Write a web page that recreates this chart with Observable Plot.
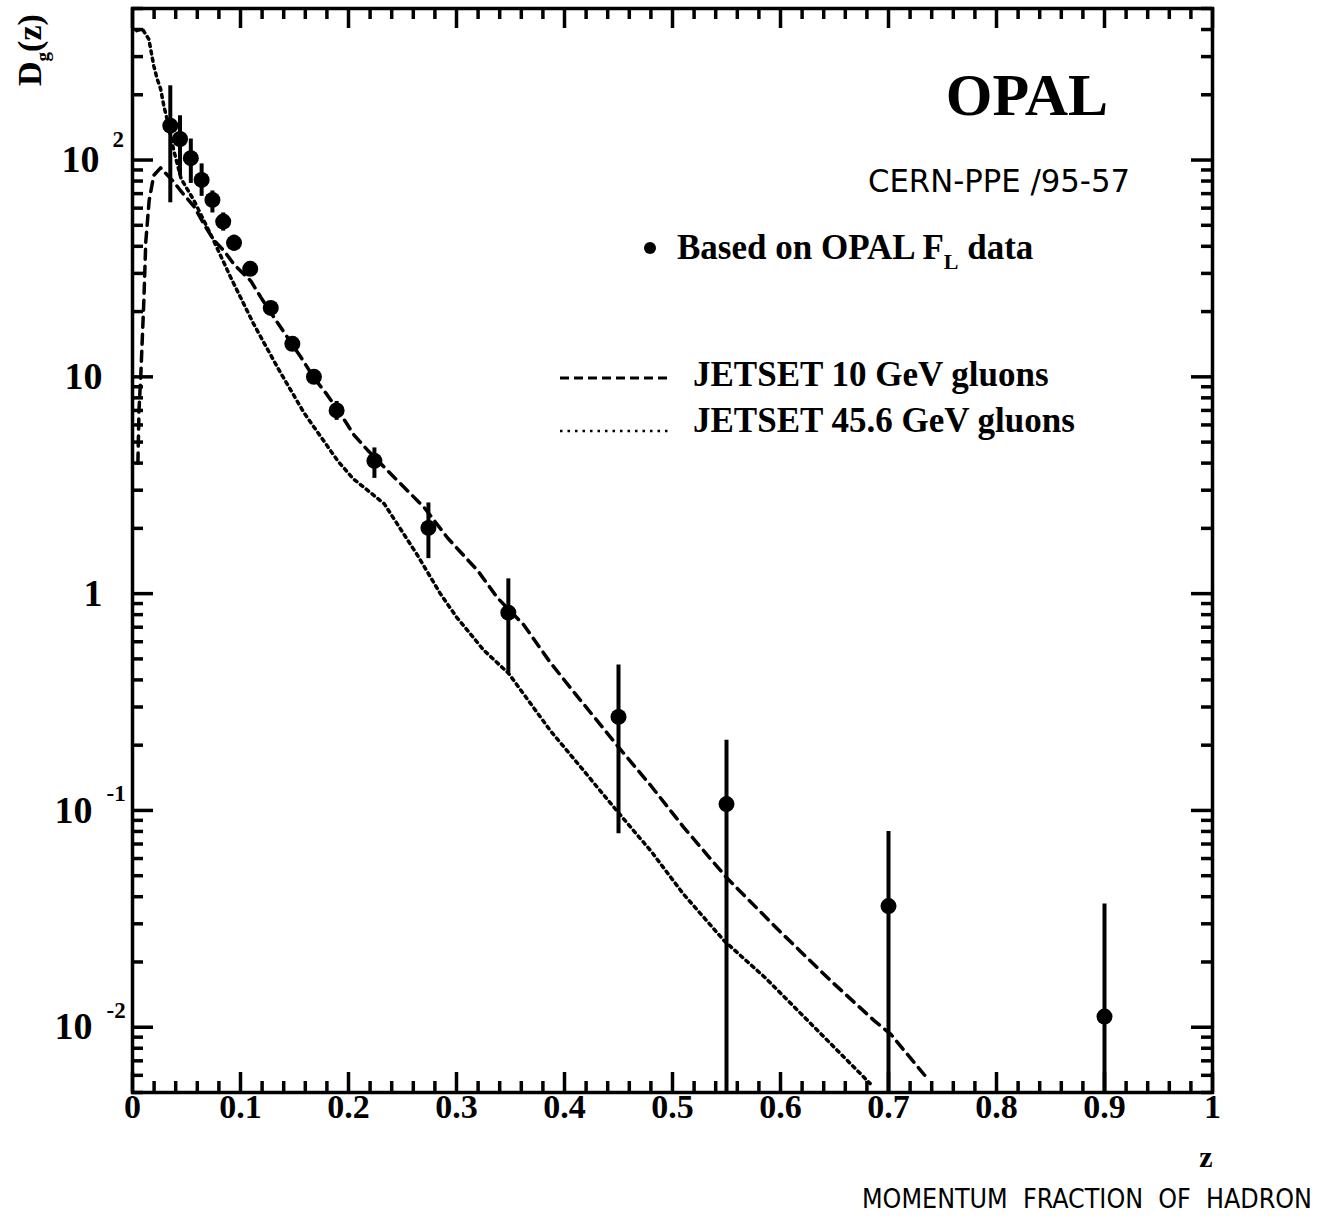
<!DOCTYPE html>
<html><head><meta charset="utf-8">
<script src="https://cdn.jsdelivr.net/npm/d3@7"></script>
<script src="https://cdn.jsdelivr.net/npm/@observablehq/plot@0.6"></script>
<style>
html,body{margin:0;padding:0;background:#fff;}
#chart{position:relative;width:1338px;height:1224px;overflow:hidden;}
</style></head><body><div id="chart"></div>
<script>
// ---- data ----
const pointZ  = [0.035, 0.044, 0.054, 0.064, 0.074, 0.084, 0.094, 0.109, 0.128, 0.148, 0.168, 0.189, 0.224, 0.274, 0.348, 0.45, 0.55, 0.70, 0.90];
const pointD  = [144, 125, 102, 81, 65.5, 52, 41.5, 31.5, 20.8, 14.2, 10, 7.0, 4.1, 2.01, 0.817, 0.27, 0.107, 0.0362, 0.0112];
const pointLo = [63.5, 85, 78, 68, 57, 47, 38, 29.5, 20, 13.6, 9.6, 6.3, 3.4, 1.45, 0.43, 0.078, 0.005, 0.005, 0.005];
const pointHi = [220, 160, 125, 96, 72, 57, 45, 33.5, 21.6, 14.8, 10.4, 7.7, 4.7, 2.62, 1.17, 0.469, 0.211, 0.080, 0.037];

const jet10Z = [0.005, 0.006, 0.0077, 0.0105, 0.0123, 0.0154, 0.0197, 0.026, 0.0385, 0.0447, 0.057, 0.068, 0.0756, 0.085, 0.094, 0.1095, 0.119, 0.131, 0.1435, 0.156, 0.168, 0.18, 0.193, 0.205, 0.2175, 0.242, 0.27, 0.292, 0.32, 0.338, 0.362, 0.387, 0.41, 0.43, 0.45, 0.48, 0.51, 0.55, 0.6, 0.647, 0.687, 0.702, 0.736];
const jet10D = [4, 7, 10.2, 22.4, 42, 65, 85, 92, 79, 72, 61, 48.8, 42.5, 38, 33, 27.7, 23.2, 18.8, 15.2, 12.3, 9.9, 8.3, 6.7, 5.4, 4.6, 3.45, 2.5, 1.8, 1.27, 0.955, 0.72, 0.48, 0.345, 0.26, 0.196, 0.13, 0.084, 0.049, 0.0275, 0.0163, 0.0107, 0.0093, 0.0058];

const jet45Z = [0.004, 0.009, 0.0151, 0.0197, 0.0228, 0.026, 0.029, 0.032, 0.038, 0.045, 0.057, 0.0743, 0.091, 0.112, 0.1345, 0.159, 0.19, 0.204, 0.233, 0.264, 0.285, 0.3, 0.325, 0.348, 0.387, 0.418, 0.45, 0.48, 0.51, 0.548, 0.586, 0.683];
const jet45D = [395, 403, 361, 272, 237, 213, 178, 154, 112, 82, 65, 43.4, 28.7, 17.6, 11.0, 6.8, 4.1, 3.4, 2.6, 1.5, 1.0, 0.78, 0.55, 0.43, 0.233, 0.152, 0.0975, 0.065, 0.0412, 0.025, 0.0169, 0.0055];

const xLabelValues = [0, 0.1, 0.2, 0.3, 0.4, 0.5, 0.6, 0.7, 0.8, 0.9, 1];
const xLabelTexts  = ["0", "0.1", "0.2", "0.3", "0.4", "0.5", "0.6", "0.7", "0.8", "0.9", "1"];
const yLabelValues = [100, 10, 1, 0.1, 0.01];
const yLabelBase   = ["10", "10", "1", "10", "10"];
const yLabelExp    = ["2", "", "", "-1", "-2"];

const xMajorTicks = [0, 0.1, 0.2, 0.3, 0.4, 0.5, 0.6, 0.7, 0.8, 0.9, 1];
const xMinorTicks = d3.range(1, 50).map(i => i / 50).filter(v => Math.abs(v * 10 - Math.round(v * 10)) > 1e-9);
const yMajorTicks = [0.01, 0.1, 1, 10, 100];
const yMinorTicks = [5,6,7,8,9].map(m => m * 0.001)
  .concat(...[0.01, 0.1, 1, 10].map(p => [2,3,4,5,6,7,8,9].map(m => +(m * p).toPrecision(3))))
  .concat([200, 300, 400, 500]);

// ---- layout ----
const W = 1338, H = 1224;
const mL = 132, mR = 126, mT = 8, mB = 132;
const iW = W - mL - mR, iH = H - mT - mB;
const serif = "'Liberation Serif', 'Times New Roman', 'DejaVu Serif', serif";
const hand = "'DejaVu Sans Condensed', 'Liberation Sans Narrow', 'DejaVu Sans', sans-serif";

const points = pointZ.map((z, i) => ({z, d: pointD[i], lo: pointLo[i], hi: pointHi[i]}));
const jet10 = jet10Z.map((z, i) => ({z, d: jet10D[i]}));
const jet45 = jet45Z.map((z, i) => ({z, d: jet45D[i]}));
const yLabels = yLabelValues.map((v, i) => ({v, base: yLabelBase[i], exp: yLabelExp[i]}));

const txt = {fill: "black", fontFamily: serif, fontWeight: "bold"};
const TW = 3.5;

const chart = Plot.plot({
  width: W, height: H,
  marginLeft: mL, marginRight: mR, marginTop: mT, marginBottom: mB,
  x: {domain: [0, 1], axis: null},
  y: {type: "log", domain: [0.005, 500], axis: null},
  style: {background: "white", fontFamily: serif, overflow: "visible"},
  marks: [
    Plot.line(jet10, {x: "z", y: "d", stroke: "black", strokeWidth: 3.5, strokeDasharray: "10,7"}),
    Plot.line(jet45, {x: "z", y: "d", stroke: "black", strokeWidth: 3.5, strokeDasharray: "3,4.5"}),
    Plot.ruleX(points, {x: "z", y1: "lo", y2: "hi", stroke: "black", strokeWidth: 4}),
    Plot.dot(points, {x: "z", y: "d", r: 8, fill: "black", stroke: null}),
    // ticks, all pointing inward
    Plot.tickX(xMajorTicks, {x: d => d, insetTop: iH - 20, strokeWidth: TW}),
    Plot.tickX(xMinorTicks, {x: d => d, insetTop: iH - 11, strokeWidth: TW}),
    Plot.tickX(xMajorTicks, {x: d => d, insetBottom: iH - 20, strokeWidth: TW}),
    Plot.tickX(xMinorTicks, {x: d => d, insetBottom: iH - 11, strokeWidth: TW}),
    Plot.tickY(yMajorTicks, {y: d => d, insetRight: iW - 21, strokeWidth: TW}),
    Plot.tickY(yMinorTicks, {y: d => d, insetRight: iW - 11, strokeWidth: TW}),
    Plot.tickY(yMajorTicks, {y: d => d, insetLeft: iW - 21, strokeWidth: TW}),
    Plot.tickY(yMinorTicks, {y: d => d, insetLeft: iW - 11, strokeWidth: TW}),
    Plot.frame({stroke: "black", strokeWidth: 3.5}),
    // x tick labels
    Plot.text(xLabelValues, {x: d => d, text: (d, i) => xLabelTexts[i], frameAnchor: "bottom", dy: 25, fontSize: 34, ...txt}),
    // y tick labels
    Plot.text(yLabels.filter(d => d.exp === ""), {y: "v", text: "base", frameAnchor: "left", textAnchor: "end", dx: -30, fontSize: 38, ...txt}),
    Plot.text(yLabels.filter(d => d.exp !== "" && !d.exp.startsWith("-")), {y: "v", text: "base", frameAnchor: "left", textAnchor: "end", dx: -33, fontSize: 38, ...txt}),
    Plot.text(yLabels.filter(d => d.exp.startsWith("-")), {y: "v", text: "base", frameAnchor: "left", textAnchor: "end", dx: -40, fontSize: 38, ...txt}),
    Plot.text(yLabels.filter(d => d.exp !== "" && !d.exp.startsWith("-")), {y: "v", text: "exp", frameAnchor: "left", textAnchor: "start", dx: -20, dy: -20, fontSize: 23, ...txt}),
    Plot.text(yLabels.filter(d => d.exp.startsWith("-")), {y: "v", text: "exp", frameAnchor: "left", textAnchor: "start", dx: -26, dy: -17, fontSize: 23, ...txt})
  ]
});

document.getElementById("chart").appendChild(chart);

// ---- annotations, legend, titles ----
const svg = d3.select(chart);
const g = svg.append("g").attr("font-family", serif).attr("font-weight", "bold")
  .attr("fill", "black").attr("text-anchor", "start");

// y title (rotated)
const yt = g.append("text").attr("transform", "translate(41,86) rotate(-90)").attr("font-size", 34);
yt.append("tspan").text("D");
yt.append("tspan").attr("font-size", 19).attr("dy", 8).text("g");
yt.append("tspan").attr("dy", -8).text("(z)");

// x title
g.append("text").attr("x", 1206).attr("y", 1167).attr("text-anchor", "middle").attr("font-size", 30).text("z");
g.append("text").attr("x", 862).attr("y", 1208).attr("font-family", hand).attr("font-weight", "normal")
  .attr("font-size", 26).attr("textLength", 450).attr("lengthAdjust", "spacingAndGlyphs")
  .text("MOMENTUM  FRACTION  OF  HADRON");

// OPAL & reference
g.append("text").attr("x", 1108).attr("y", 115).attr("text-anchor", "end").attr("font-size", 60).text("OPAL");
g.append("text").attr("x", 868).attr("y", 192).attr("font-family", hand).attr("font-weight", "normal")
  .attr("font-size", 32).attr("textLength", 262).attr("lengthAdjust", "spacingAndGlyphs").text("CERN-PPE /95-57");

// legend
g.append("circle").attr("cx", 650).attr("cy", 248).attr("r", 6);
const l1 = g.append("text").attr("x", 677).attr("y", 259).attr("font-size", 35);
l1.append("tspan").text("Based on OPAL F");
l1.append("tspan").attr("font-size", 22).attr("dy", 10).text("L");
l1.append("tspan").attr("dy", -10).text(" data");

g.append("line").attr("x1", 560).attr("x2", 668).attr("y1", 378).attr("y2", 378)
  .attr("stroke", "black").attr("stroke-width", 3).attr("stroke-dasharray", "9,5");
g.append("text").attr("x", 693).attr("y", 386).attr("font-size", 35).text("JETSET 10 GeV gluons");
g.append("line").attr("x1", 560).attr("x2", 668).attr("y1", 431).attr("y2", 431)
  .attr("stroke", "black").attr("stroke-width", 2.5).attr("stroke-dasharray", "2.5,5");
g.append("text").attr("x", 693).attr("y", 432).attr("font-size", 35).text("JETSET 45.6 GeV gluons");
</script>
</body></html>
